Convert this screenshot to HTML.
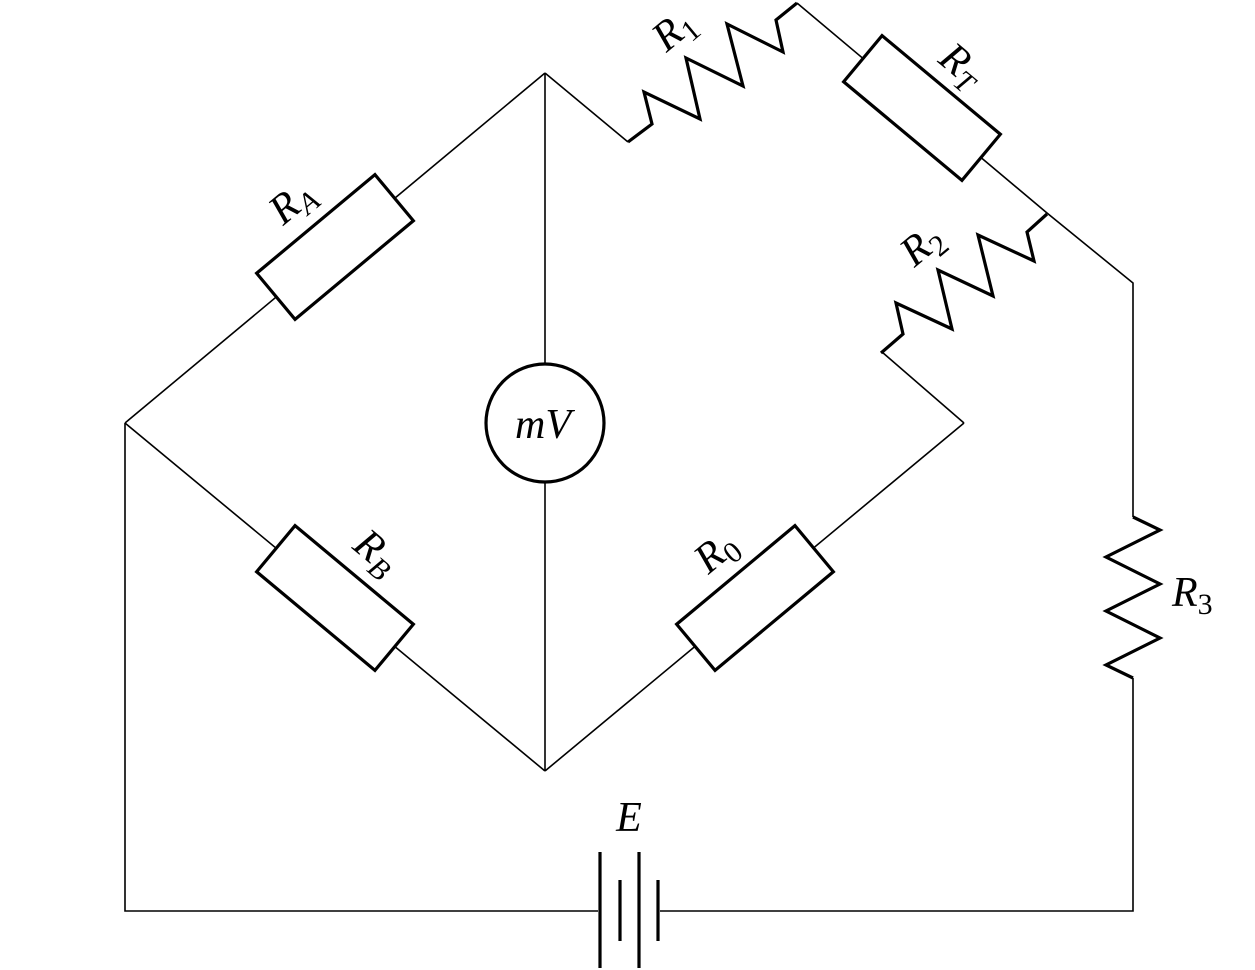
<!DOCTYPE html>
<html><head><meta charset="utf-8"><style>html,body{margin:0;padding:0;background:#fff}svg{display:block}text{font-family:"Liberation Serif",serif;font-style:italic;fill:#000}</style></head>
<body>
<svg width="1255" height="970" viewBox="0 0 1255 970">
<g stroke="#000" stroke-width="1.6" fill="none">
<line x1="545" y1="73" x2="125" y2="423"/>
<line x1="125" y1="423" x2="545" y2="771"/>
<line x1="545" y1="771" x2="964" y2="423"/>
<line x1="964" y1="423" x2="882" y2="352"/>
<line x1="545" y1="73" x2="545" y2="771"/>
<line x1="545" y1="73" x2="628" y2="142"/>
<polyline points="797,3 1047,213 1133,283 1133,517"/>
<polyline points="1133,678 1133,911 660,911"/>
<polyline points="598,911 125,911 125,423"/>
</g>
<g stroke="#000" stroke-width="3.2" fill="none" stroke-linejoin="miter">
<polyline points="628,142 652,124 644,92 700,119 686,58 743,86 727,24 783,52 776,20 797,3"/>
<polyline points="881,353 903,334 896,303 952,329 938,270 993,296 978,235 1034,261 1027,232 1047,214"/>
<polyline points="1133,517 1160,530 1106,557 1160,584 1106,611 1160,638 1106,665 1133,678"/>
</g>
<g stroke="#000" stroke-width="3.2" fill="#fff">
<rect x="-77" y="-30" width="154" height="60" transform="translate(335,247) rotate(-39.8)"/>
<rect x="-77" y="-30" width="154" height="60" transform="translate(335,598) rotate(39.8)"/>
<rect x="-77" y="-30" width="154" height="60" transform="translate(755,598) rotate(-39.8)"/>
<rect x="-77" y="-30" width="154" height="60" transform="translate(922,108) rotate(39.8)"/>
<circle cx="545" cy="423" r="59"/>
</g>
<g stroke="#000" stroke-width="3.2">
<line x1="600" y1="852" x2="600" y2="968"/>
<line x1="620" y1="880" x2="620" y2="941"/>
<line x1="639" y1="852" x2="639" y2="968"/>
<line x1="658" y1="880" x2="658" y2="941"/>
</g>
<g font-size="42">
<text x="543" y="438" text-anchor="middle">mV</text>
<text x="629" y="831" text-anchor="middle">E</text>
<text x="1172" y="606">R<tspan font-size="30" font-style="normal" dy="8">3</tspan></text>
<text transform="translate(300,212) rotate(-39.8)" text-anchor="middle">R<tspan font-size="30" dy="8">A</tspan></text>
<text transform="translate(368,562) rotate(39.8)" text-anchor="middle">R<tspan font-size="30" dy="8">B</tspan></text>
<text transform="translate(724,562) rotate(-39.8)" text-anchor="middle">R<tspan font-size="30" font-style="normal" dy="8">0</tspan></text>
<text transform="translate(953,75) rotate(39.8)" text-anchor="middle">R<tspan font-size="30" dy="8">T</tspan></text>
<text transform="translate(682,40) rotate(-39.8)" text-anchor="middle">R<tspan font-size="30" font-style="normal" dy="8">1</tspan></text>
<text transform="translate(930,255) rotate(-39.8)" text-anchor="middle">R<tspan font-size="30" font-style="normal" dy="8">2</tspan></text>
</g>
</svg>
</body></html>
